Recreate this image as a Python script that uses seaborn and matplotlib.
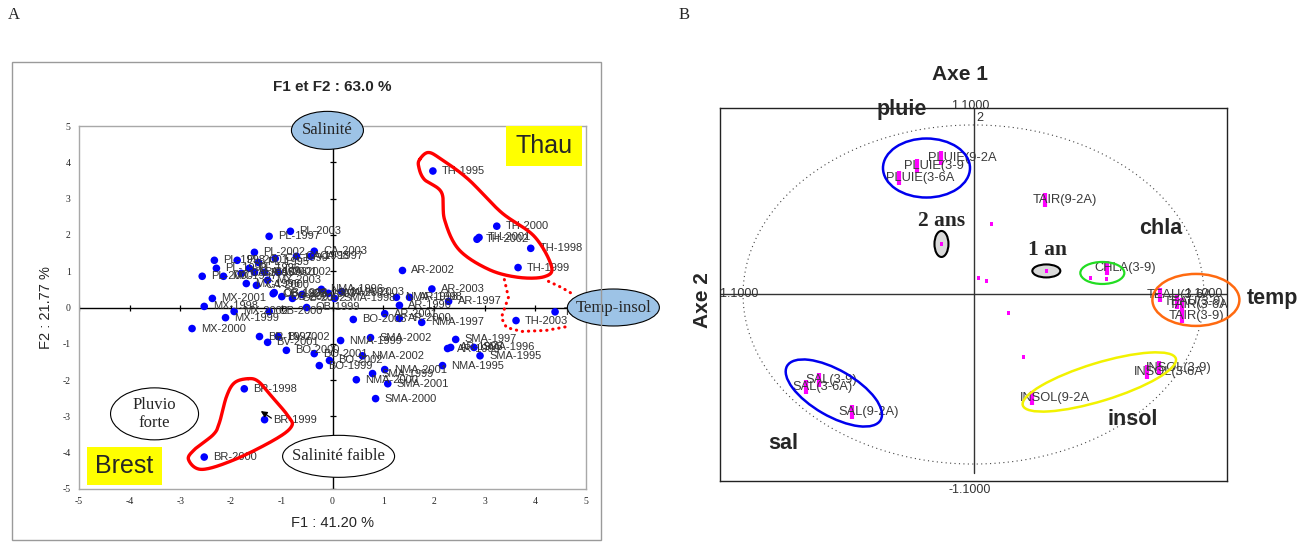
import numpy as np
import pandas as pd
import matplotlib
matplotlib.use("Agg")
import matplotlib.pyplot as plt
import seaborn as sns
from matplotlib.patches import Ellipse, Rectangle
from matplotlib.transforms import ScaledTranslation

# ---------------- Panel A : individus (stations x annees) sur F1/F2 ----------------
station_labels = [
    "TH-1995", "TH-2000", "TH-2001", "TH-2002", "TH-1998", "TH-1999", "TH-2003", "TH-1997",
    "AR-2002", "AR-2003", "AR-1997", "AR-1998", "NMA-1998", "AR-1996", "AR-2001", "AR-2000", "NMA-1997",
    "PL-2003", "PL-1997", "PL-2002", "PL-1998", "PL-2001", "PL-1995", "PL-1999", "PL-1996", "PL-2000",
    "CA-2003", "CA-1997", "CA-1998", "CA-1999", "CA-2002", "CA-2001", "CA-1996", "CA-1995", "CA-2000",
    "MX-2003", "MX-1997", "MX-1996", "MX-2001", "MX-1998", "MX-1999", "MX-2000", "MX-2002",
    "OB-1998", "OB-1997", "OB-2001", "OB-2002", "OB-1999", "OB-2000", "OB-2003",
    "NMA-1996", "SMA-2003", "SMA-1998", "NMA-2003",
    "BR-1997", "BV-2001", "BV-2002", "BO-2000", "BO-2001", "BO-2002", "BO-1999", "BO-2003",
    "NMA-1999", "SMA-2002", "NMA-2002", "SMA-1997", "AR-1999", "AR-1995", "SMA-1996", "SMA-1995",
    "NMA-1995", "NMA-2001", "SMA-1999", "NMA-2000", "SMA-2001", "SMA-2000",
    "BR-1998", "BR-1999", "BR-2000",
]
f1_scores = [
    1.98, 3.24, 2.89, 2.85, 3.91, 3.66, 3.62, 4.39,
    1.38, 1.96, 2.29, 1.52, 1.26, 1.32, 1.03, 1.32, 1.76,
    -0.83, -1.25, -1.54, -2.33, -1.88, -1.46, -2.29, -1.64, -2.57,
    -0.36, -0.43, -0.71, -1.13, -1.07, -1.34, -1.54, -1.80, -1.50,
    -1.28, -2.15, -1.70, -2.37, -2.53, -2.11, -2.77, -1.94,
    -1.15, -1.17, -1.00, -0.79, -0.51, -1.25, -0.60,
    -0.22, -0.08, 0.04, 0.18,
    -1.44, -1.28, -1.07, -0.91, -0.36, -0.06, -0.26, 0.41,
    0.16, 0.75, 0.59, 2.43, 2.27, 2.33, 2.79, 2.91,
    2.17, 1.03, 0.79, 0.47, 1.09, 0.85,
    -1.74, -1.34, -2.53,
]
f2_scores = [
    3.76, 2.24, 1.93, 1.88, 1.63, 1.10, -0.36, -0.12,
    1.02, 0.51, 0.17, 0.28, 0.28, 0.06, -0.17, -0.30, -0.41,
    2.10, 1.96, 1.52, 1.30, 1.30, 1.24, 1.08, 1.08, 0.86,
    1.55, 1.41, 1.41, 1.35, 0.97, 0.97, 0.97, 0.94, 0.61,
    0.75, 0.86, 0.66, 0.25, 0.03, -0.28, -0.58, -0.11,
    0.41, 0.38, 0.30, 0.25, 0.00, -0.11, 0.36,
    0.50, 0.39, 0.25, 0.44,
    -0.80, -0.96, -0.80, -1.18, -1.27, -1.46, -1.60, -0.33,
    -0.91, -0.83, -1.33, -0.88, -1.13, -1.10, -1.10, -1.33,
    -1.60, -1.71, -1.82, -1.99, -2.10, -2.51,
    -2.24, -3.09, -4.12,
]
a_ticks = [-5, -4, -3, -2, -1, 0, 1, 2, 3, 4, 5]

# ---------------- Panel B : cercle des correlations ----------------
variable_labels = [
    "PLUIE(9-2A", "PLUIE(3-9", "PLUIE(3-6A", "TAIR(9-2A)", "CHLA(3-9)",
    "TEAU(3-6A", "TEAU(3-9)", "TAIR(3-6A", "TAIR(3-9)",
    "INSOL(3-9)", "INSOL(3-6A", "INSOL(9-2A",
    "SAL(3-9)", "SAL(3-6A)", "SAL(9-2A)",
]
axe_x = [-0.139, -0.247, -0.325, 0.312, 0.580,
         0.810, 0.883, 0.905, 0.905,
         0.806, 0.754, 0.256,
         -0.671, -0.728, -0.528]
axe_y = [0.805, 0.758, 0.687, 0.558, 0.156,
         -0.003, -0.044, -0.062, -0.127,
         -0.434, -0.460, -0.611,
         -0.504, -0.546, -0.693]
# variables sans etiquette
minor_x = [0.078, 0.022, 0.056, 0.152, 0.217, 0.507, 0.576, -0.139, 0.316]
minor_y = [0.416, 0.097, 0.080, -0.109, -0.369, 0.097, 0.091, 0.298, 0.139]

# ---------------- style ----------------
sns.set_style("white")
plt.rcParams["font.family"] = ["Liberation Sans", "DejaVu Sans"]
plt.rcParams["axes.unicode_minus"] = False
SERIF = ["Liberation Serif", "DejaVu Serif"]

W, H = 1310, 543
fig = plt.figure(figsize=(W / 100, H / 100), dpi=100)


def fx(px):
    return px / W


def fy(py):
    return 1 - py / H


def px_ellipse(ax, x, y, w, h, angle=0, **kw):
    """Ellipse sized in pixels, centred on a data point."""
    e = Ellipse((0, 0), w, h, angle=angle,
                transform=ScaledTranslation(x, y, ax.transData), **kw)
    ax.add_patch(e)
    return e


def closed_spline(pts, n=24):
    P = np.asarray(pts, float)
    m = len(P)
    t = np.linspace(0, 1, n, endpoint=False)[:, None]
    segs = []
    for i in range(m):
        p0, p1, p2, p3 = P[i - 1], P[i], P[(i + 1) % m], P[(i + 2) % m]
        segs.append(0.5 * (2 * p1 + (-p0 + p2) * t + (2 * p0 - 5 * p1 + 4 * p2 - p3) * t ** 2
                           + (-p0 + 3 * p1 - 3 * p2 + p3) * t ** 3))
    out = np.vstack(segs)
    return np.vstack([out, out[:1]])


# ================= Panel A =================
fig.patches.append(Rectangle((fx(12), fy(540)), fx(601) - fx(12), fy(62) - fy(540),
                             transform=fig.transFigure, fill=False,
                             edgecolor="#9a9a9a", lw=1.0))
fig.text(fx(8), fy(15), "A", family=SERIF, fontsize=12, va="center", ha="left")

axA = fig.add_axes([fx(79), fy(489), fx(586) - fx(79), fy(126) - fy(489)])
dfA = pd.DataFrame({"F1": f1_scores, "F2": f2_scores, "station": station_labels})
axA.set_xlim(-5, 5)
axA.set_ylim(-5, 5)

axA.axhline(0, color="black", lw=1.0, zorder=1)
axA.axvline(0, color="black", lw=1.0, zorder=1)
axA.plot([0] * len(a_ticks), a_ticks, ls="none", marker="_", ms=5, mew=0.9, color="black", zorder=1)
axA.plot(a_ticks, [0] * len(a_ticks), ls="none", marker="|", ms=5, mew=0.9, color="black", zorder=1)

sns.scatterplot(data=dfA, x="F1", y="F2", ax=axA, color="#0000ff", s=30,
                edgecolor="none", zorder=3, legend=False)
for lab, x, y in zip(station_labels, f1_scores, f2_scores):
    axA.annotate(lab, (x, y), xytext=(9, 0), textcoords="offset pixels",
                 fontsize=8, color="#333333", va="center", ha="left", zorder=3)

axA.set_xticks(a_ticks)
axA.set_yticks(a_ticks)
axA.set_xticklabels([str(t) for t in a_ticks], family=SERIF, fontsize=7)
axA.set_yticklabels([str(t) for t in a_ticks], family=SERIF, fontsize=7)
axA.tick_params(length=0, pad=6)
for s in axA.spines.values():
    s.set_color("#a8a8a8")
    s.set_linewidth(1.0)
axA.set_xlabel("F1 : 41.20 %", fontsize=10.5, labelpad=7)
axA.set_ylabel("F2 : 21.77 %", fontsize=10.5, labelpad=6.5)
axA.set_title("F1 et F2 : 63.0 %", fontsize=11, fontweight="bold", pad=25)

# groupes entoures
thau_outline = [(1.72, 4.08), (1.89, 4.27), (2.15, 4.08), (2.68, 3.53), (3.33, 2.62),
                (3.98, 1.96), (4.32, 1.13), (4.18, 0.85), (3.67, 0.83), (3.08, 1.05),
                (2.49, 1.60), (2.21, 2.42), (2.15, 3.17), (1.81, 3.53), (1.70, 3.88)]
brest_outline = [(-1.66, -1.96), (-1.93, -2.07), (-2.09, -2.45), (-2.23, -3.17),
                 (-2.35, -3.50), (-2.72, -3.91), (-2.84, -4.19), (-2.58, -4.46),
                 (-1.93, -4.19), (-1.14, -3.64), (-0.81, -3.28), (-0.87, -3.00),
                 (-1.20, -2.45), (-1.46, -2.04)]
for outline in (thau_outline, brest_outline):
    c = closed_spline(outline)
    axA.plot(c[:, 0], c[:, 1], color="#ff0000", lw=2.4, zorder=4, solid_capstyle="round")

dot_style = dict(color="#ff0000", lw=2.2, ls=(0, (0.1, 1.9)), dash_capstyle="round",
                 zorder=4, clip_on=False)
link1 = np.array([(3.39, 0.77), (3.47, 0.28), (3.33, -0.28), (3.43, -0.55),
                  (3.73, -0.66), (4.22, -0.63), (4.65, -0.52)])
link2 = np.array([(4.26, 0.72), (4.52, 0.55), (4.75, 0.36)])
axA.plot(link1[:, 0], link1[:, 1], **dot_style)
axA.plot(link2[:, 0], link2[:, 1], **dot_style)

axA.annotate("", xy=(-1.46, -2.81), xytext=(-1.16, -3.09),
             arrowprops=dict(arrowstyle="-|>", color="black", lw=0.9, mutation_scale=9),
             zorder=5)

# etiquettes des facteurs
for (x, y, w, h, txt, fc) in [(-0.10, 4.88, 72, 38, "Salinité", "#9dc3e6"),
                              (5.54, 0.0, 92, 37, "Temp-insol", "#9dc3e6"),
                              (-3.51, -2.93, 88, 52, "Pluvio\nforte", "white"),
                              (0.12, -4.10, 112, 42, "Salinité faible", "white")]:
    px_ellipse(axA, x, y, w, h, facecolor=fc, edgecolor="black", lw=0.8,
               zorder=5, clip_on=False)
    axA.text(x, y, txt, family=SERIF, fontsize=12, ha="center", va="center",
             zorder=6, linespacing=1.15, clip_on=False)

for (x0, x1, y0, y1, txt) in [(3.43, 4.93, 3.91, 4.99, "Thau"),
                              (-4.85, -3.37, -4.88, -3.83, "Brest")]:
    axA.add_patch(Rectangle((x0, y0), x1 - x0, y1 - y0, facecolor="#ffff00",
                            edgecolor="none", zorder=5))
    axA.text((x0 + x1) / 2, (y0 + y1) / 2, txt, fontsize=18, ha="center", va="center", zorder=6)

# ================= Panel B =================
fig.text(fx(679), fy(15), "B", family=SERIF, fontsize=12, va="center", ha="left")
axB = fig.add_axes([fx(720), fy(481), fx(1227) - fx(720), fy(108) - fy(481)])
axB.set_xlim(-1.1, 1.1)
axB.set_ylim(-1.1, 1.1)
axB.set_xticks([])
axB.set_yticks([])
for s in axB.spines.values():
    s.set_color("#222222")
    s.set_linewidth(1.0)

axB.axhline(0, color="#333333", lw=1.0, zorder=1)
axB.plot([0, 0], [-1.05, 1.1], color="#333333", lw=1.0, zorder=1)

theta = np.linspace(0, 2 * np.pi, 400)
axB.plot(np.cos(theta), np.sin(theta), color="#444444", lw=0.8,
         ls=(0, (1, 3)), zorder=1)

for txt, x, y, clip in [("1.1000", -0.013, 1.112, False), ("2", 0.026, 1.04, False),
                        ("-1.1000", -0.017, -1.155, False), ("1.1000", 0.996, 0.0, False),
                        ("-1.1000", -1.022, 0.0, True)]:
    axB.text(x, y, txt, fontsize=9, color="#333333", ha="center", va="center",
             clip_on=clip, zorder=2)

px_ellipse(axB, -0.139, 0.298, 14, 26, facecolor="#d9d9d9", edgecolor="black", lw=1.5, zorder=2)
px_ellipse(axB, 0.316, 0.139, 28, 13, facecolor="#d9d9d9", edgecolor="black", lw=1.5, zorder=2)

dfB = pd.DataFrame({"x": axe_x, "y": axe_y, "var": variable_labels})
dfm = pd.DataFrame({"x": minor_x, "y": minor_y})
sns.scatterplot(data=dfm, x="x", y="y", ax=axB, color="#ff00ff", marker="s", s=6,
                edgecolor="none", zorder=3, legend=False)
sns.scatterplot(data=dfB, x="x", y="y", ax=axB, color="#ff00ff", marker="|", s=90,
                linewidth=3, zorder=3, legend=False)
axB.set_xlabel("")
axB.set_ylabel("")
for lab, x, y in zip(variable_labels, axe_x, axe_y):
    axB.annotate(lab, (x, y), xytext=(-13, 0), textcoords="offset pixels",
                 fontsize=9.3, color="#3a3a3a", va="center", ha="left", zorder=4,
                 annotation_clip=False)

# regroupements de variables
px_ellipse(axB, -0.204, 0.746, 87, 59, fill=False, edgecolor="#0000ee", lw=1.8, zorder=5)
px_ellipse(axB, -0.606, -0.581, 108, 46, angle=-30, fill=False, edgecolor="#0000ee", lw=1.8, zorder=5)
px_ellipse(axB, 0.546, -0.516, 160, 38, angle=17, fill=False, edgecolor="#f2f200", lw=1.8, zorder=5)
px_ellipse(axB, 0.965, -0.032, 87, 52, fill=False, edgecolor="#ff6a10", lw=1.8, zorder=5, clip_on=False)
px_ellipse(axB, 0.559, 0.127, 44, 22, fill=False, edgecolor="#22dd22", lw=1.6, zorder=5)

for txt, x, y in [("pluie", -0.312, 1.094), ("chla", 0.814, 0.392), ("temp", 1.295, -0.021),
                  ("insol", 0.689, -0.740), ("sal", -0.827, -0.876)]:
    axB.text(x, y, txt, fontsize=15.5, fontweight="bold", ha="center", va="center",
             zorder=6, clip_on=False)
axB.text(-0.139, 0.434, "2 ans", family=SERIF, fontsize=15.5, fontweight="bold",
         ha="center", va="center", zorder=6)
axB.text(0.320, 0.263, "1 an", family=SERIF, fontsize=15.5, fontweight="bold",
         ha="center", va="center", zorder=6)

fig.text(fx(960), fy(75), "Axe 1", fontsize=15, fontweight="bold", ha="center", va="center")
fig.text(fx(703), fy(300), "Axe 2", fontsize=15, fontweight="bold", ha="center", va="center",
         rotation=90)

fig.savefig("out.png", dpi=100)
